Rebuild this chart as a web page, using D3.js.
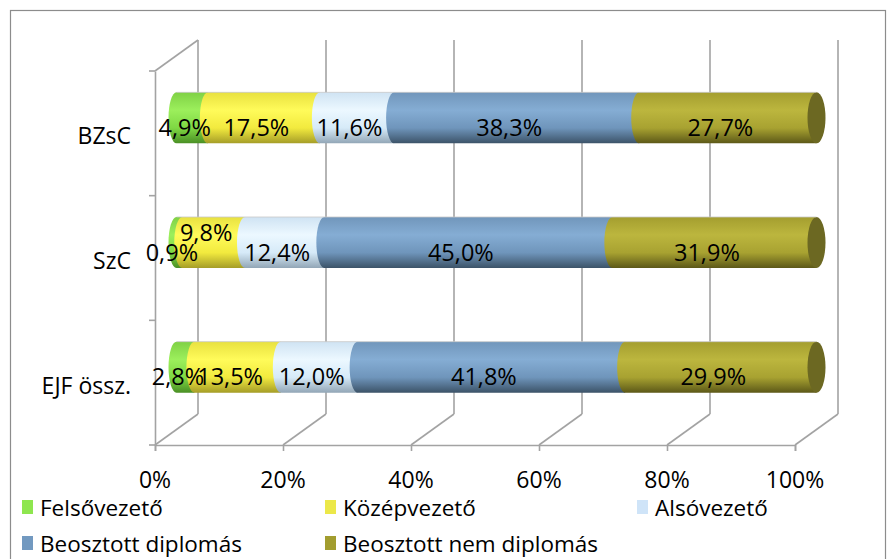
<!DOCTYPE html>
<html>
<head>
<meta charset="utf-8">
<script src="https://cdn.jsdelivr.net/npm/d3@7"></script>
<style>
  body { margin: 0; background: #fff; }
  text { font-family: "Open Sans", sans-serif; fill: #000; }
</style>
</head>
<body>
<div id="chart"></div>
<script>
// categories top to bottom
var categories = ["BZsC", "SzC", "EJF össz."];
var seriesNames = ["Felsővezető", "Középvezető", "Alsóvezető", "Beosztott diplomás", "Beosztott nem diplomás"];
// percent values per category, same order as seriesNames
var felso = [4.9, 0.9, 2.8];
var kozep = [17.5, 9.8, 13.5];
var also = [11.6, 12.4, 12.0];
var beoDipl = [38.3, 45.0, 41.8];
var beoNem = [27.7, 31.9, 29.9];
var tickValues = [0, 20, 40, 60, 80, 100];

var seriesValues = [felso, kozep, also, beoDipl, beoNem];
var legendColors = ["#8ee64f", "#ece849", "#cfe4f8", "#7299c0", "#a29d2f"];
// gradient stops for each cylinder: top, highlight, body, bottom
var shades = [
    ["#7fd145", "#9cef5c", "#7fd843", "#4a8f25"],
    ["#e8e140", "#fffb5a", "#f2ea3e", "#a59d27"],
    ["#cfe3f3", "#ecf8ff", "#d6eaf8", "#92a6b6"],
    ["#7196bb", "#85add4", "#6f95bb", "#3c5368"],
    ["#a49e2f", "#bcb63e", "#a8a231", "#5c5818"]
];

var width = 895, height = 559;
var svg = d3.select("#chart").append("svg")
    .attr("width", width)
    .attr("height", height);

// chart area border
svg.append("rect")
    .attr("x", 10.5).attr("y", 10.5)
    .attr("width", 875).attr("height", 580)
    .attr("fill", "none")
    .attr("stroke", "#8c8c8c")
    .attr("stroke-width", 1.2);

var x = d3.scaleLinear().domain([0, 100]).range([155, 795]);
var y = d3.scaleBand().domain(categories).range([71, 445]);
var dx = 43, dy = -31;   // depth of the 3d box
var barH = 51, rx = 8;
var grid = "#a3a3a3";

// back wall gridlines
svg.selectAll(".grid").data(tickValues).enter().append("line")
    .attr("x1", function (d) { return x(d) + dx; })
    .attr("x2", function (d) { return x(d) + dx; })
    .attr("y1", y.range()[0] + dy)
    .attr("y2", y.range()[1] + dy)
    .attr("stroke", grid).attr("stroke-width", 1.6);

// floor diagonals
svg.selectAll(".floor").data(tickValues).enter().append("line")
    .attr("x1", function (d) { return x(d); })
    .attr("x2", function (d) { return x(d) + dx; })
    .attr("y1", y.range()[1])
    .attr("y2", y.range()[1] + dy)
    .attr("stroke", grid).attr("stroke-width", 1.6);

// front floor axis
var xAxis = d3.axisBottom(x).tickValues(tickValues).tickSize(6).tickFormat("");
var gx = svg.append("g").attr("transform", "translate(0," + y.range()[1] + ")").call(xAxis);
gx.selectAll("path, line").attr("stroke", grid).attr("stroke-width", 1.6);

// left wall
svg.append("line")
    .attr("x1", x(0)).attr("x2", x(0) + dx)
    .attr("y1", y.range()[0]).attr("y2", y.range()[0] + dy)
    .attr("stroke", grid).attr("stroke-width", 1.6);
var yAxis = d3.axisLeft(y).tickSize(0).tickFormat("");
var gy = svg.append("g").attr("transform", "translate(" + x(0) + ",0)").call(yAxis);
gy.select("path").attr("stroke", grid).attr("stroke-width", 1.6);
var bounds = [71, 445].concat(categories.slice(1).map(function (c) { return y(c); }));
svg.selectAll(".ytick").data(bounds).enter().append("line")
    .attr("x1", x(0) - 6).attr("x2", x(0))
    .attr("y1", function (d) { return d; }).attr("y2", function (d) { return d; })
    .attr("stroke", grid).attr("stroke-width", 1.6);

// gradients
var defs = svg.append("defs");
shades.forEach(function (s, i) {
    var g = defs.append("linearGradient").attr("id", "g" + i)
        .attr("x1", 0).attr("y1", 0).attr("x2", 0).attr("y2", 1);
    g.append("stop").attr("offset", "0%").attr("stop-color", s[0]);
    g.append("stop").attr("offset", "35%").attr("stop-color", s[1]);
    g.append("stop").attr("offset", "70%").attr("stop-color", s[2]);
    g.append("stop").attr("offset", "100%").attr("stop-color", s[3]);
});

// stacked data
var rows = categories.map(function (c, ci) {
    var acc = 0;
    return seriesValues.map(function (vals, si) {
        var seg = { cat: c, si: si, v: vals[ci], x0: acc, x1: acc + vals[ci] };
        acc += vals[ci];
        return seg;
    });
});

var ox = dx / 2, oy = dy / 2;
rows.forEach(function (segs) {
    var c = segs[0].cat;
    var yc = y(c) + y.bandwidth() / 2 + oy;
    var top = yc - barH / 2, bot = yc + barH / 2;
    var g = svg.append("g");
    g.selectAll("path").data(segs).enter().append("path")
        .attr("d", function (d) {
            var a = x(d.x0) + ox, b = x(d.x1) + ox;
            return "M" + a + "," + top + " A" + rx + "," + (barH / 2) + " 0 0 0 " + a + "," + bot +
                " L" + b + "," + bot + " L" + b + "," + top + " Z";
        })
        .attr("fill", function (d) { return "url(#g" + d.si + ")"; });
    // end cap
    var last = segs[segs.length - 1];
    g.append("ellipse")
        .attr("cx", x(last.x1) + ox).attr("cy", yc)
        .attr("rx", rx + 1).attr("ry", barH / 2)
        .attr("fill", "#6c6822");
    // thin top rim
    g.append("line")
        .attr("x1", x(0) + ox).attr("x2", x(last.x1) + ox)
        .attr("y1", top).attr("y2", top)
        .attr("stroke", "#c8c8c8").attr("stroke-width", 0.8);

    // value labels
    g.selectAll("text").data(segs).enter().append("text")
        .attr("x", function (d) { return x((d.x0 + d.x1) / 2) + ox - 7.5; })
        .attr("y", function (d, i) {
            var shift = (i > 0 && segs[i - 1].v < 1) ? -20 : 0;
            return yc + 9 + shift;
        })
        .attr("text-anchor", "middle")
        .attr("dominant-baseline", "central")
        .style("font-size", "23.5px")
        .text(function (d) { return d.v.toFixed(1).replace(".", ",") + "%"; });
});

// category labels
svg.selectAll(".cat").data(categories).enter().append("text")
    .attr("x", 131)
    .attr("y", function (d) { return y(d) + y.bandwidth() / 2 + 2; })
    .attr("text-anchor", "end")
    .attr("dominant-baseline", "central")
    .style("font-size", "23px")
    .text(function (d) { return d; });

// x tick labels
svg.selectAll(".xt").data(tickValues).enter().append("text")
    .attr("x", function (d) { return x(d); })
    .attr("y", 479)
    .attr("text-anchor", "middle")
    .attr("dominant-baseline", "central")
    .style("font-size", "23px")
    .text(function (d) { return d + "%"; });

// legend
var legX = [22, 325, 637];
var legend = svg.selectAll(".leg").data(seriesNames).enter().append("g")
    .attr("transform", function (d, i) {
        return "translate(" + legX[i % 3] + "," + (i < 3 ? 507 : 543) + ")";
    });
legend.append("rect")
    .attr("x", 0).attr("y", -7)
    .attr("width", 11).attr("height", 14)
    .attr("fill", function (d, i) { return legendColors[i]; });
legend.append("text")
    .attr("x", 18).attr("y", 0)
    .attr("dominant-baseline", "central")
    .style("font-size", "22.5px")
    .text(function (d) { return d; });
</script>
</body>
</html>
